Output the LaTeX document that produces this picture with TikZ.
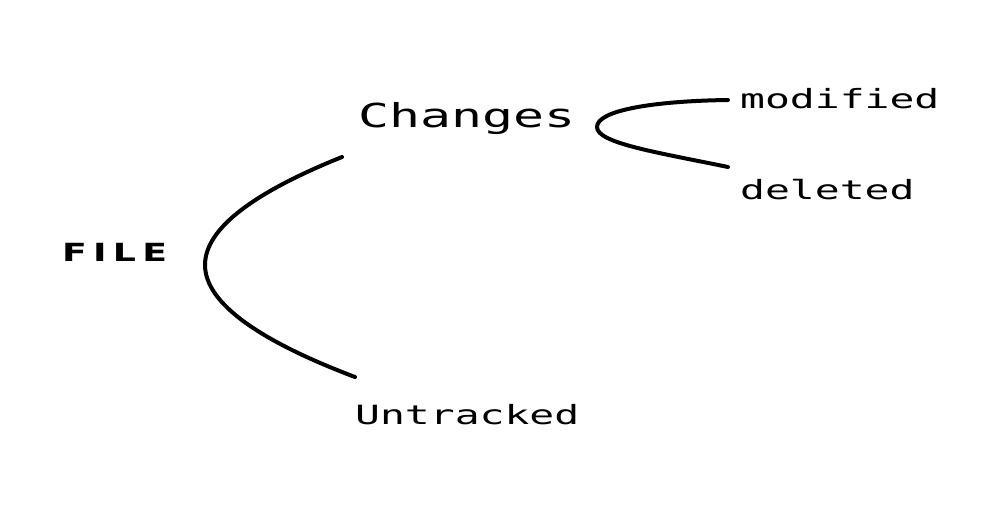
\documentclass[tikz,border=0pt]{standalone}
\usepackage{fontspec}
\usepackage{tikz}
\usetikzlibrary{calc,positioning}
\newfontfamily\codefont[FakeStretch=1.56]{DejaVu Sans Mono}
\newfontfamily\filefont[FakeStretch=1.45,LetterSpace=25]{DejaVu Sans}
\tikzset{
  lbl/.style={inner sep=0pt,anchor=base west},
  brace/.style={line width=4pt,line cap=round}
}
\begin{document}
\begin{tikzpicture}[x=1pt,y=-1pt]
	\useasboundingbox (0,0) rectangle (1004,506);
	\node[lbl] (file) at (62,261) {\filefont\bfseries\fontsize{25}{25}\selectfont FILE};
	\node[lbl] (changes) at (358,127) {\codefont\fontsize{33}{33}\selectfont Changes};
	\node[lbl] (untracked) at (355,424) {\codefont\fontsize{26.5}{26.5}\selectfont Untracked};
	\node[lbl] (modified) at (740,108) {\codefont\fontsize{26.5}{26.5}\selectfont modified};
	\node[lbl] (deleted) at (740,199) {\codefont\fontsize{26.5}{26.5}\selectfont deleted};
	% ends of the two curves
	\coordinate (c1) at (342,157); \coordinate (c2) at (355,377);
	\coordinate (m1) at (728,100); \coordinate (m2) at (728,167);
	\draw[brace] (c1) .. controls (255,192) and (205,228) .. (205,265) .. controls (205,305) and (265,343) .. (c2);
	\draw[brace] (m1) .. controls (655,101) and (597,110) .. (597,127) .. controls (597,143) and (655,152) .. (m2);
\end{tikzpicture}
\end{document}
